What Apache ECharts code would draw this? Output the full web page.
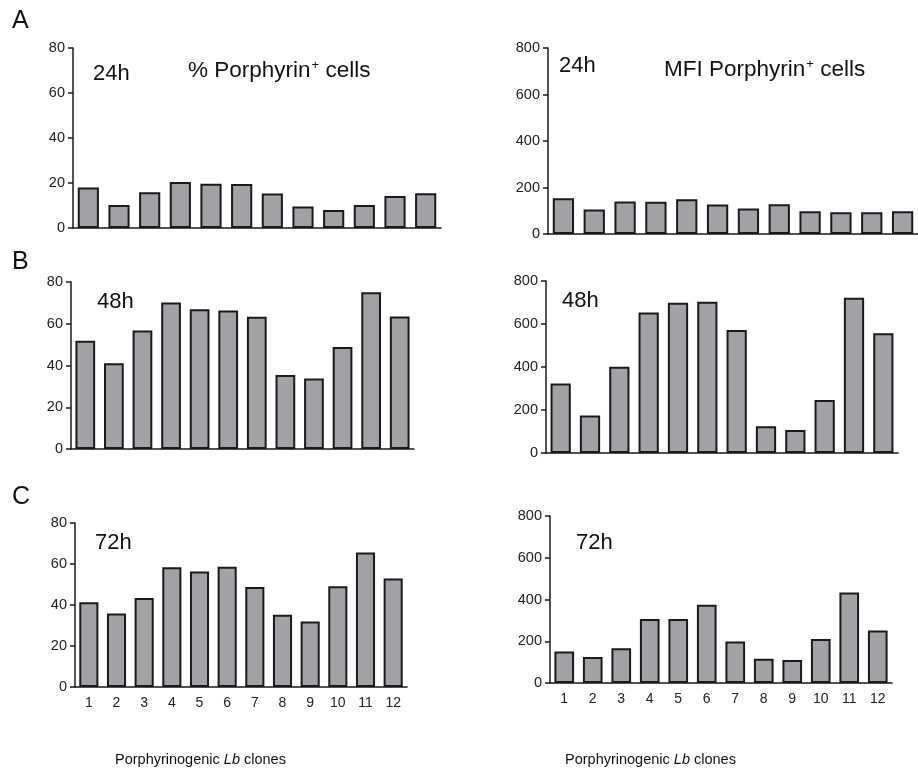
<!DOCTYPE html>
<html>
<head>
<meta charset="utf-8">
<script src="https://cdn.jsdelivr.net/npm/echarts@6/dist/echarts.min.js"></script>
<style>
  html, body { margin: 0; padding: 0; background: #fff; }
  #chart { width: 918px; height: 771px; }
</style>
</head>
<body>
<div id="chart"></div>
<script>
const clones = ['1', '2', '3', '4', '5', '6', '7', '8', '9', '10', '11', '12'];

// % Porphyrin+ cells
const pct24 = [18, 10.2, 15.9, 20.4, 19.7, 19.6, 15.3, 9.6, 8, 10.2, 14.2, 15.4];
const pct48 = [51.8, 41.1, 56.8, 70.2, 67, 66.4, 63.3, 35.4, 33.8, 48.9, 75.1, 63.5];
const pct72 = [41.3, 35.8, 43.4, 58.4, 56.4, 58.7, 48.8, 35.3, 32, 49.1, 65.6, 52.9];

// MFI Porphyrin+ cells
const mfi24 = [154, 105, 140, 139, 149, 127, 110, 128, 98, 94, 94, 98];
const mfi48 = [323, 175, 401, 653, 699, 704, 572, 125, 107, 246, 722, 557];
const mfi72 = [151, 125, 167, 307, 307, 375, 199, 116, 110, 211, 434, 251];

const pctTicks = { max: 80, interval: 20 };
const mfiTicks = { max: 800, interval: 200 };

const FONT = 'Liberation Sans, Arial, sans-serif';
const barFill = '#a2a1a6';
const ink = '#1a1a1a';

const panels = [
    { grid: { left: 73, top: 48, width: 368, height: 180 }, data: pct24, ticks: pctTicks, labels: false },
    { grid: { left: 548, top: 48, width: 379, height: 186 }, data: mfi24, ticks: mfiTicks, labels: false },
    { grid: { left: 71, top: 282, width: 343, height: 167 }, data: pct48, ticks: pctTicks, labels: false },
    { grid: { left: 546, top: 281, width: 352, height: 172 }, data: mfi48, ticks: mfiTicks, labels: false },
    { grid: { left: 75, top: 523, width: 332, height: 164 }, data: pct72, ticks: pctTicks, labels: true },
    { grid: { left: 550, top: 516, width: 342, height: 167 }, data: mfi72, ticks: mfiTicks, labels: true },
];

const chart = echarts.init(document.getElementById('chart'));

function textEl(x, y, str, size) {
    return {
        type: 'text', left: x, top: y,
        style: { text: str, font: size + 'px ' + FONT, fill: '#111' }
    };
}

function titleEl(x, y, prefix) {
    return {
        type: 'text', left: x, top: y,
        style: {
            text: '{a|' + prefix + ' Porphyrin}{s|+}{a| cells}',
            rich: {
                a: { fontSize: 22.5, fontFamily: FONT, fill: '#111', verticalAlign: 'bottom' },
                s: { fontSize: 13, fontFamily: FONT, fill: '#111', verticalAlign: 'top', padding: [0, 0, 9, 1] }
            }
        }
    };
}

function xTitleEl(x, y) {
    return {
        type: 'text', left: x, top: y,
        style: {
            text: '{a|Porphyrinogenic }{i|Lb}{a| clones}',
            rich: {
                a: { fontSize: 14.5, fontFamily: FONT, fill: '#111' },
                i: { fontSize: 14.5, fontFamily: FONT, fontStyle: 'italic', fill: '#111' }
            }
        }
    };
}

const option = {
    animation: false,
    backgroundColor: '#fff',
    grid: panels.map(p => Object.assign({ containLabel: false }, p.grid)),
    xAxis: panels.map((p, i) => ({
        type: 'category',
        gridIndex: i,
        data: clones,
        axisLine: { lineStyle: { color: ink, width: 1.5 } },
        axisTick: { show: false },
        axisLabel: { show: p.labels, color: '#222', fontSize: 14, fontFamily: FONT, margin: 9 }
    })),
    yAxis: panels.map((p, i) => ({
        type: 'value',
        gridIndex: i,
        min: 0,
        max: p.ticks.max,
        interval: p.ticks.interval,
        axisLine: { show: true, lineStyle: { color: ink, width: 1.5 } },
        axisTick: { show: true, length: 5, lineStyle: { color: ink, width: 1.5 } },
        axisLabel: { color: '#222', fontSize: 14.5, fontFamily: FONT, margin: 8 },
        splitLine: { show: false }
    })),
    series: panels.map((p, i) => ({
        type: 'bar',
        xAxisIndex: i,
        yAxisIndex: i,
        data: p.data,
        barCategoryGap: '31%',
        itemStyle: { color: barFill, borderColor: ink, borderWidth: 2 }
    })),
    graphic: [
        textEl(12, 9, 'A', 25),
        textEl(12, 250, 'B', 25),
        textEl(12, 485, 'C', 25),
        textEl(93, 63, '24h', 22),
        textEl(559, 55, '24h', 22),
        textEl(97, 291, '48h', 22),
        textEl(562, 290, '48h', 22),
        textEl(95, 532, '72h', 22),
        textEl(576, 532, '72h', 22),
        titleEl(188, 59, '%'),
        titleEl(664, 58, 'MFI'),
        xTitleEl(115, 752),
        xTitleEl(565, 752)
    ]
};

chart.setOption(option);
</script>
</body>
</html>
